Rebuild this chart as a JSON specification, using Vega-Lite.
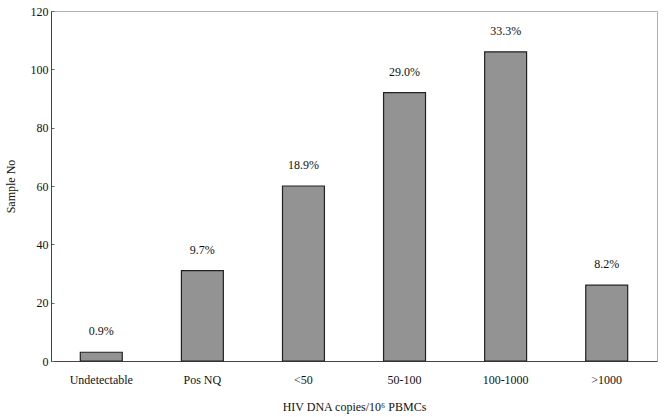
{
  "$schema": "https://vega.github.io/schema/vega-lite/v6.json",
  "width": 606,
  "height": 350,
  "autosize": "none",
  "padding": {"left": 51, "top": 11, "right": 10, "bottom": 56},
  "background": "white",
  "config": {
    "font": "Liberation Serif",
    "view": {"stroke": "#b0b0b0", "strokeWidth": 1}
  },
  "data": {
    "values": [
      {"cat": "Undetectable", "n": 3, "pct": "0.9%"},
      {"cat": "Pos NQ", "n": 31, "pct": "9.7%"},
      {"cat": "<50", "n": 60, "pct": "18.9%"},
      {"cat": "50-100", "n": 92, "pct": "29.0%"},
      {"cat": "100-1000", "n": 106, "pct": "33.3%"},
      {"cat": ">1000", "n": 26, "pct": "8.2%"}
    ]
  },
  "encoding": {
    "x": {
      "field": "cat",
      "type": "nominal",
      "sort": null,
      "scale": {"paddingInner": 0.585, "paddingOuter": 0.29},
      "axis": {
        "title": "HIV DNA copies/10⁶ PBMCs",
        "titleFont": "Liberation Serif",
        "titleFontSize": 12,
        "titleFontWeight": "normal",
        "titleColor": "#111",
        "titlePadding": 16,
        "labelAngle": 0,
        "labelFontSize": 12,
        "labelColor": "#111",
        "labelPadding": 16,
        "bandPosition": 0,
        "tickSize": -3,
        "tickColor": "#666",
        "domainColor": "#444",
        "grid": false
      }
    },
    "y": {
      "field": "n",
      "type": "quantitative",
      "scale": {"domain": [0, 120]},
      "axis": {
        "title": "Sample No",
        "titleFont": "Liberation Serif",
        "titleFontSize": 12,
        "titleFontWeight": "normal",
        "titleColor": "#111",
        "titlePadding": 13,
        "values": [0, 20, 40, 60, 80, 100, 120],
        "labelFontSize": 12,
        "labelColor": "#111",
        "labelPadding": 6,
        "tickSize": -3,
        "tickColor": "#666",
        "domainColor": "#444",
        "grid": false
      }
    }
  },
  "layer": [
    {
      "mark": {"type": "bar", "fill": "#939393", "stroke": "#222", "strokeWidth": 1.2}
    },
    {
      "mark": {"type": "text", "baseline": "bottom", "dy": -14, "fontSize": 12, "color": "#111", "font": "Liberation Serif"},
      "encoding": {"text": {"field": "pct"}}
    }
  ]
}
